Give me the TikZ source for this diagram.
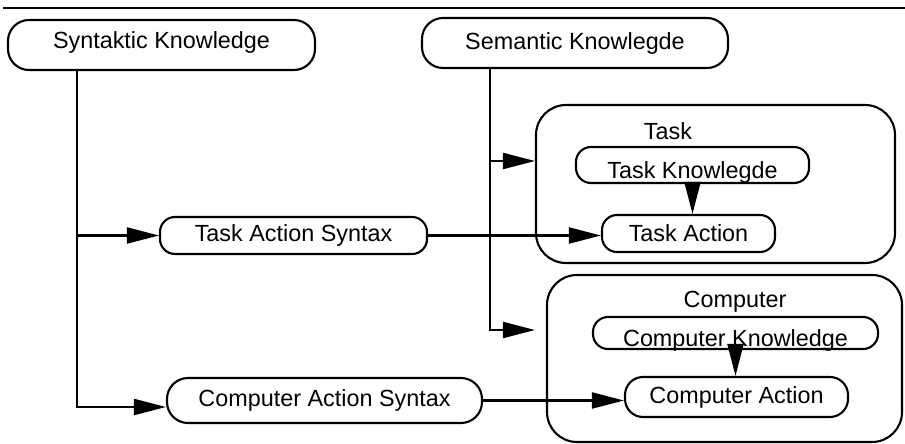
\documentclass[tikz,border=0pt]{standalone}
\usepackage{fontspec}
\setmainfont{Liberation Sans}
\usetikzlibrary{arrows.meta}

\tikzset{
  knowbox/.style={draw, line width=1.2pt, rounded corners=0.3cm, inner sep=0pt},
  bigbox/.style={knowbox, rounded corners=0.42cm},
  lowtext/.style={text height=0.55cm, text depth=0cm},
  groupbox/.style={draw, line width=1.2pt, rounded corners=0.6cm, inner sep=0pt},
  flow/.style={line width=1.2pt, -{Triangle[length=0.64cm,width=0.32cm]}}
}

\begin{document}
\begin{tikzpicture}[x=0.2mm, y=-0.2mm, font=\fontsize{13.3}{15}\selectfont]
    \useasboundingbox (0,0) rectangle (905,444);

    %Rule on top
    \draw[line width=1.2pt] (3,8) -- (905,8); %Top line

    %Knowledge sources
    \node[bigbox, text depth=0.2cm, minimum width=6.14cm, minimum height=1cm] (synknow) at (161.5,45) {Syntaktic Knowledge};
    \node[bigbox, minimum width=6.12cm, minimum height=1cm] (semknow) at (575,43) {Semantic Knowlegde};

    %Syntax
    \node[knowbox, minimum width=5.34cm, minimum height=0.74cm] (tasksyn) at (293.5,235.5) {Task Action Syntax};
    \node[bigbox, minimum width=6.3cm, minimum height=0.9cm] (compsyn) at (324.5,400.5) {Computer Action Syntax};

    %Task
    \node[groupbox, minimum width=7.18cm, minimum height=3.16cm] (taskbox) at (715.5,184) {};
    \node (tasklabel) at (668,131) {Task}; %Text
    \node[knowbox, lowtext, minimum width=4.66cm, minimum height=0.72cm] (taskknow) at (692.5,165) {Task Knowlegde};
    \node[knowbox, minimum width=3.46cm, minimum height=0.74cm] (taskact) at (688.5,233.5) {Task Action};

    %Computer
    \node[groupbox, minimum width=7.1cm, minimum height=3.34cm] (compbox) at (724.5,358.5) {};
    \node (complabel) at (735,302) {Computer}; %Text
    \node[knowbox, lowtext, minimum width=5.7cm, minimum height=0.64cm] (compknow) at (735.5,333) {Computer Knowledge};
    \node[knowbox, rounded corners=0.36cm, minimum width=4.46cm, minimum height=0.8cm] (compact) at (736.5,397) {Computer Action};

    %Connectors
    \coordinate (synbus) at (77,0);
    \coordinate (sembus) at (490,0);
    \draw[flow] (synknow.south -| synbus) |- (tasksyn.west);
    \draw[flow] (synknow.south -| synbus) |- ([yshift=-0.13cm]compsyn.west);
    \draw[flow] (semknow.south -| sembus) |- ([yshift=0.46cm]taskbox.west);
    \draw[flow, shorten >=0.22cm] (semknow.south -| sembus) |- ([yshift=0.57cm]compbox.west);
    \draw[flow] (tasksyn.east) -- (tasksyn.east -| taskact.west);
    \draw[flow] (compsyn.east) -- (compsyn.east -| compact.west);
    \draw[flow] (taskknow.south) -- (taskknow.south |- taskact.north);
    \draw[flow] (compknow.south) -- (compknow.south |- compact.north);

\end{tikzpicture}
\end{document}
